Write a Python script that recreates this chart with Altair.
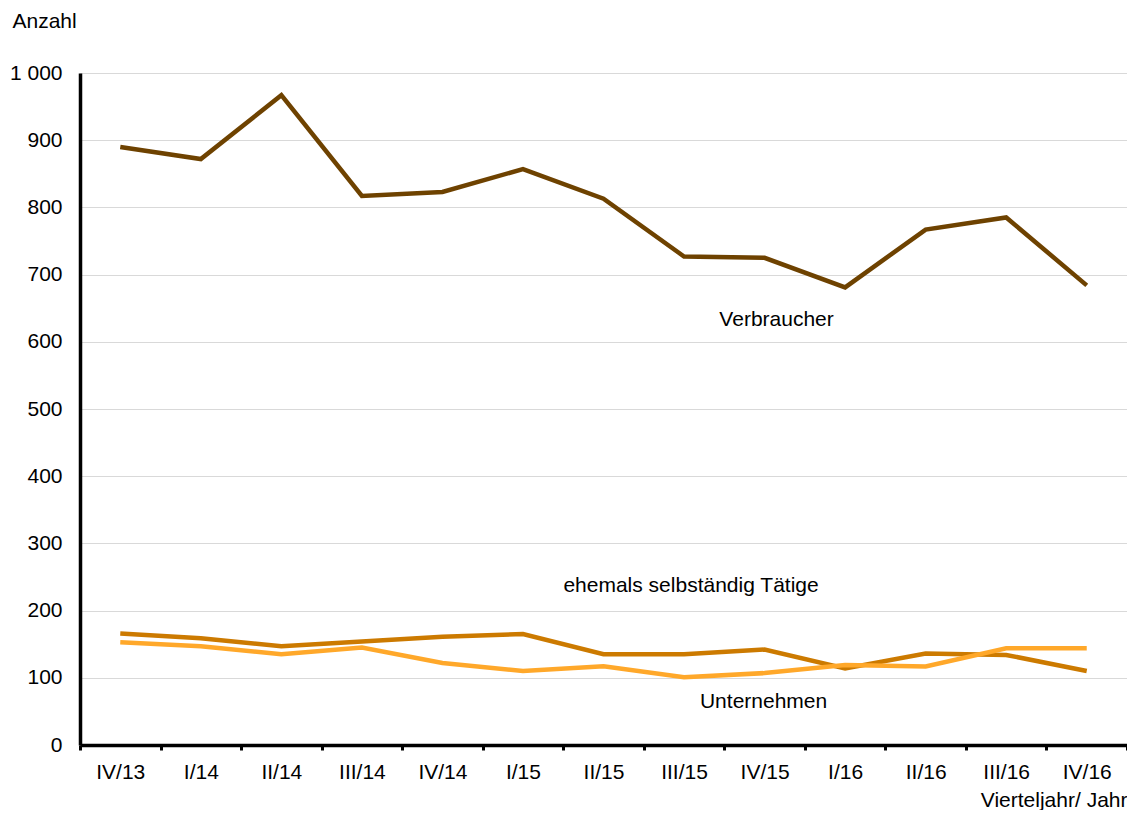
import altair as alt
import pandas as pd

quarters = ["IV/13", "I/14", "II/14", "III/14", "IV/14", "I/15", "II/15",
            "III/15", "IV/15", "I/16", "II/16", "III/16", "IV/16"]
verbraucher = [890, 872, 967, 817, 823, 857, 813, 727, 725, 681, 767, 785, 684]
ehemals = [166, 159, 147, 154, 161, 165, 135, 135, 142, 114, 136, 134, 110]
unternehmen = [153, 147, 135, 145, 122, 110, 117, 101, 107, 119, 117, 144, 144]

series_names = ["Verbraucher", "ehemals selbständig Tätige", "Unternehmen"]
series_colors = ["#6E4200", "#CC7A00", "#FFA82A"]

label_text = ["Verbraucher", "ehemals selbständig Tätige", "Unternehmen"]
label_q = ["IV/15", "III/15", "IV/15"]
label_y = [632, 236, 64]
label_dx = [12, 7, -1]

rows = []
for name, vals in zip(series_names, [verbraucher, ehemals, unternehmen]):
    for q, v in zip(quarters, vals):
        rows.append({"Quartal": q, "Anzahl": v, "Serie": name})
df = pd.DataFrame(rows)

FONT = "Liberation Sans"
FS = 21
W = 1047
H = 672

x_enc = alt.X("Quartal:N", sort=quarters, scale=alt.Scale(paddingInner=0, paddingOuter=0),
              axis=alt.Axis(title="Vierteljahr/ Jahr", labelAngle=0, grid=False,
                            tickBand="extent", tickSize=5, tickWidth=3, tickColor="black",
                            domainColor="black", domainWidth=3.5, labelPadding=11,
                            labelFontSize=FS, labelFont=FONT, labelColor="black",
                            titleFont=FONT, titleFontSize=FS, titleFontWeight="normal",
                            titleColor="black", titleAnchor="end", titleAlign="right",
                            titleX=W, titleY=61, titleBaseline="alphabetic"))
y_enc = alt.Y("Anzahl:Q", scale=alt.Scale(domain=[0, 1000], nice=False),
              axis=alt.Axis(title="Anzahl", values=list(range(0, 1001, 100)),
                            labelExpr="replace(format(datum.value, ','), ',', ' ')",
                            ticks=False, tickSize=0, labelPadding=18,
                            domainColor="black", domainWidth=3.5,
                            gridColor="#d9d9d9", gridWidth=1,
                            labelFontSize=FS, labelFont=FONT, labelColor="black",
                            titleFont=FONT, titleFontSize=FS, titleFontWeight="normal",
                            titleColor="black", titleAngle=0, titleAlign="left",
                            titleX=-68, titleY=-46, titleBaseline="alphabetic"))

lines = alt.Chart(df).mark_line(strokeWidth=4.5, strokeJoin="miter").encode(
    x=x_enc,
    y=y_enc,
    color=alt.Color("Serie:N", scale=alt.Scale(domain=series_names, range=series_colors),
                    legend=None),
    detail="Serie:N",
)

layers = [lines]
for t, q, yv, dx in zip(label_text, label_q, label_y, label_dx):
    ldf = pd.DataFrame({"Quartal": [q], "Anzahl": [yv], "text": [t]})
    layers.append(
        alt.Chart(ldf).mark_text(font=FONT, fontSize=FS, color="black",
                                 align="center", baseline="middle", dx=dx).encode(
            x=alt.X("Quartal:N", sort=quarters),
            y=alt.Y("Anzahl:Q"),
            text="text:N",
        )
    )

chart = alt.layer(*layers).properties(
    width=W, height=H,
    autosize=alt.AutoSizeParams(type="none"),
    padding={"left": 72, "top": 65, "right": 0, "bottom": 65},
).configure_view(stroke=None).configure(background="white")

chart.save("out.html", embed_options={"renderer": "svg", "actions": False})
